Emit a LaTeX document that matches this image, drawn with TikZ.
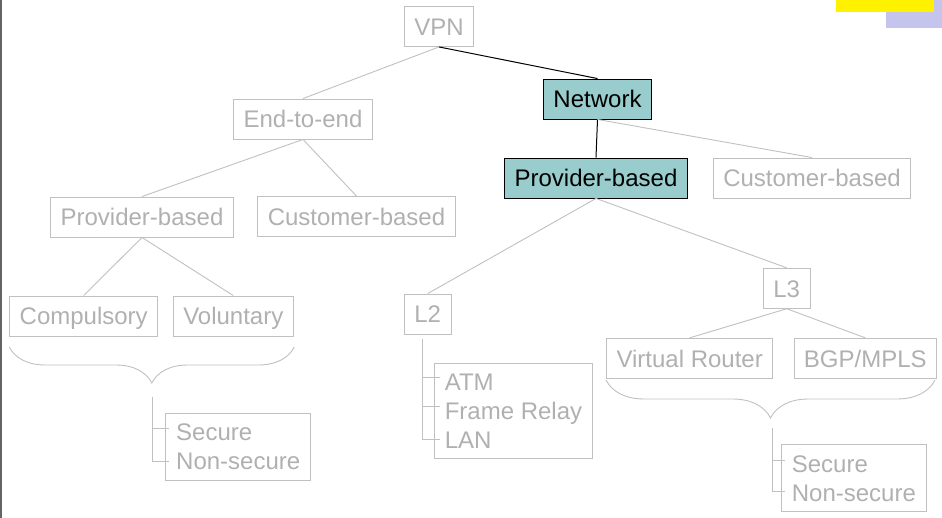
\documentclass[tikz,border=0pt]{standalone}
\usepackage{fontspec}
\setmainfont{Liberation Sans}
\usetikzlibrary{decorations.pathreplacing}

\definecolor{boxgray}{RGB}{192,192,192}
\definecolor{txtgray}{RGB}{176,176,176}
\definecolor{hiteal}{RGB}{153,204,204}
\definecolor{notelav}{RGB}{196,196,236}
\definecolor{edgegray}{RGB}{100,100,100}

\tikzset{
  box/.style={draw=boxgray, line width=0.9pt, text=txtgray,
    font=\fontsize{24}{29}\selectfont, inner xsep=10pt,
    minimum height=40pt, text height=21pt, text depth=3pt},
  hibox/.style={box, draw=black, fill=hiteal, text=black},
  listbox/.style={draw=boxgray, line width=0.9pt, text=txtgray,
    font=\fontsize{24}{29}\selectfont, align=left,
    inner xsep=10.5pt, inner ysep=10.5pt},
  link/.style={draw=boxgray, line width=0.9pt},
  hilink/.style={draw=black, line width=1pt},
}

\begin{document}
\begin{tikzpicture}[x=1pt,y=-1pt]
    \useasboundingbox (0,0) rectangle (942,518);
    % page edge and note corner
    \fill[edgegray] (0,0) rectangle (2,518);
    \fill[notelav] (886,0) rectangle (942,28);
    \fill[yellow] (836,0) rectangle (934,12);

    % tree nodes
    \node[box] (vpn) at (439,26.5) {VPN};
    \node[box] (etoe) at (303,119) {End-to-end};
    \node[hibox] (network) at (597.5,99) {Network};
    \node[box] (prov) at (142,217) {Provider-based};
    \node[box] (cust) at (356.5,216.5) {Customer-based};
    \node[hibox] (netprov) at (596,178) {Provider-based};
    \node[box] (netcust) at (812,178) {Customer-based};
    \node[box] (comp) at (83.7,316) {Compulsory};
    \node[box] (vol) at (233.3,316) {Voluntary};
    \node[box] (ltwo) at (427.7,314) {L2};
    \node[box] (lthree) at (786.7,288.3) {L3};
    \node[box] (vrouter) at (689.7,358.3) {Virtual Router};
    \node[box] (bgp) at (865.3,358.3) {BGP/MPLS};

    % lists
    \node[listbox] (secl) at (238.2,446.5) {Secure\\Non-secure};
    \node[listbox] (atm) at (513.5,411) {ATM\\Frame Relay\\LAN};
    \node[listbox] (secr) at (853.9,478.3) {Secure\\Non-secure};

    % edges
    \draw[link] (vpn.south) -- (etoe.north);
    \draw[hilink] (vpn.south) -- (network.north);
    \draw[link] (etoe.south) -- (prov.north);
    \draw[link] (etoe.south) -- (cust.north);
    \draw[hilink] (network.south) -- (netprov.north);
    \draw[link] (network.south) -- (netcust.north);
    \draw[link] (prov.south) -- (comp.north);
    \draw[link] (prov.south) -- (vol.north);
    \draw[link] (netprov.south) -- (ltwo.north);
    \draw[link] (netprov.south) -- (lthree.north);
    \draw[link] (lthree.south) -- (vrouter.north);
    \draw[link] (lthree.south) -- (bgp.north);

    % braces
    \draw[link, decorate, decoration={brace, amplitude=36pt}]
      (294.3,347) -- (9.3,347);
    \draw[link, decorate, decoration={brace, amplitude=38pt}]
      (935,380) -- (606,380);

    % list ticks
    \draw[link] (152.7,397) -- (152.7,461) -- (169,461)
      (152.7,428.3) -- (169,428.3);
    \draw[link] (422.3,339) -- (422.3,439) -- (440,439)
      (422.3,377.7) -- (440,377.7) (422.3,406.7) -- (440,406.7);
    \draw[link] (772,428) -- (772,491) -- (785,491)
      (772,460) -- (785,460);
\end{tikzpicture}
\end{document}
